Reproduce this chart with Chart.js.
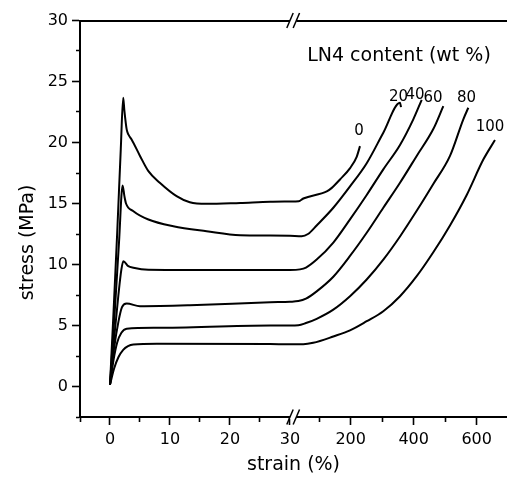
<!DOCTYPE html>
<html>
<head>
<meta charset="utf-8">
<script src="https://cdn.jsdelivr.net/npm/chart.js@4.4.0/dist/chart.umd.min.js"></script>
<style>
html,body{margin:0;padding:0;background:#fff;}
#wrap{width:507px;height:483px;position:relative;}
</style>
</head>
<body>
<div id="wrap"><canvas id="c"></canvas></div>
<script>
// ---- data (strain in %, stress in MPa) ----
const contents = ['0', '20', '40', '60', '80', '100'];

const strain0  = [0, 0.6, 1.2, 1.8, 2.2, 2.4, 2.78, 3.06, 3.6, 5.0, 6.4, 8.3, 11.1, 13.3, 16.1, 21.7, 26.7, 30, 35, 49.5, 124, 140, 166, 198, 219, 229.5];
const stress0  = [0.16, 6.2, 12.6, 19.5, 23.66, 22.6, 21.07, 20.66, 20.25, 18.9, 17.65, 16.7, 15.6, 15.1, 14.97, 15.05, 15.14, 15.16, 15.19, 15.41, 16.0, 16.28, 16.97, 17.9, 18.83, 19.7];

const strain20 = [0, 0.8, 1.5, 2.1, 2.4, 2.67, 3.9, 6.4, 10.55, 16.1, 21.7, 26.7, 30, 44.4, 64.4, 92, 144.8, 197.8, 250.8, 303.5, 356.5, 359.7];
const stress20 = [0.16, 6.2, 11.8, 16.48, 15.6, 15.0, 14.37, 13.69, 13.14, 12.73, 12.4, 12.37, 12.35, 12.32, 12.5, 13.2, 14.65, 16.4, 18.3, 20.8, 23.25, 22.9];

const strain40 = [0, 0.7, 1.4, 1.9, 2.22, 3.05, 3.9, 6.4, 13.3, 26.7, 30, 39, 58, 92, 144.8, 197.8, 250.8, 303.5, 356.5, 398.7, 425.4];
const stress40 = [0.16, 4.0, 7.5, 9.6, 10.27, 9.86, 9.73, 9.57, 9.55, 9.55, 9.55, 9.6, 9.75, 10.4, 11.8, 13.7, 15.7, 17.8, 19.8, 21.9, 23.5];

const strain60 = [0, 0.7, 1.4, 2.0, 2.78, 5.0, 13.3, 26.7, 30, 33.7, 58, 92, 144.8, 197.8, 250.8, 303.5, 356.5, 409.5, 462.2, 494];
const stress60 = [0.16, 3.2, 5.3, 6.5, 6.8, 6.58, 6.66, 6.91, 6.95, 7.0, 7.2, 7.8, 9.0, 10.7, 12.6, 14.65, 16.7, 18.9, 21.1, 22.98];

const strain80 = [0, 0.6, 1.2, 1.9, 2.78, 7.8, 26.7, 30, 33.7, 58, 92, 144.8, 197.8, 250.8, 303.5, 356.5, 409.5, 462.2, 515.2, 557.5, 573.4];
const stress80 = [0.16, 2.2, 3.6, 4.4, 4.73, 4.81, 5.0, 5.0, 5.02, 5.2, 5.55, 6.3, 7.4, 8.77, 10.4, 12.3, 14.4, 16.6, 18.9, 21.9, 22.85];

const strain100 = [0, 0.7, 1.4, 2.2, 3.0, 3.9, 7.8, 26.7, 30, 49.5, 81, 144.8, 197.8, 250.8, 303.5, 356.5, 409.5, 462.2, 515.2, 568.3, 621, 658];
const stress100 = [0.16, 1.5, 2.4, 3.0, 3.3, 3.44, 3.5, 3.48, 3.46, 3.46, 3.58, 4.1, 4.6, 5.35, 6.17, 7.4, 9.04, 11.0, 13.2, 15.7, 18.6, 20.2];

// tick labels
const xMajorLeft  = [0, 10, 20, 30];
const xMinorLeft  = [-5, 5, 15, 25];
const xMajorRight = [200, 400, 600];
const xMinorRight = [100, 300, 500];
const yMajor = [0, 5, 10, 15, 20, 25, 30];
const yMinor = [-2.5, 2.5, 7.5, 12.5, 17.5, 22.5, 27.5];

// ---- broken x axis: 0..30 linear, then compressed segment ----
const BREAK_AT = 30, GAP = 1.195, SCALE = 0.0525;
const toAxis = s => s <= BREAK_AT ? s : BREAK_AT + GAP + (s - BREAK_AT) * SCALE;

const series = [
  [strain0, stress0], [strain20, stress20], [strain40, stress40],
  [strain60, stress60], [strain80, stress80], [strain100, stress100]
];

const xTickDefs = [
  ...xMinorLeft.map(v => ({u: toAxis(v), label: '', minor: true})),
  ...xMajorLeft.map(v => ({u: toAxis(v), label: String(v), minor: false})),
  ...xMinorRight.map(v => ({u: toAxis(v), label: '', minor: true})),
  ...xMajorRight.map(v => ({u: toAxis(v), label: String(v), minor: false}))
].sort((a, b) => a.u - b.u);
const yTickDefs = [
  ...yMajor.map(v => ({u: v, label: String(v), minor: false})),
  ...yMinor.map(v => ({u: v, label: '', minor: true}))
].sort((a, b) => a.u - b.u);

const FONT = 'DejaVu Sans';
const X_MIN = -5, X_MAX = 66.17;

const decor = {
  id: 'decor',
  afterDraw(chart) {
    const ctx = chart.ctx, ca = chart.chartArea, xs = chart.scales.x;
    const c1 = xs.getPixelForValue(BREAK_AT);
    const c2 = xs.getPixelForValue(BREAK_AT + GAP) - 0.8;
    ctx.save();
    [ca.top, ca.bottom].forEach(y => {
      ctx.fillStyle = '#fff';
      ctx.fillRect(c1, y - 2, c2 - c1, 4);
      ctx.strokeStyle = '#000';
      ctx.lineWidth = 1.5;
      [c1, c2].forEach(c => {
        ctx.beginPath();
        ctx.moveTo(c - 3.2, y + 7.5);
        ctx.lineTo(c + 3.2, y - 7.5);
        ctx.stroke();
      });
    });
    ctx.fillStyle = '#000';
    // y-axis title
    ctx.save();
    ctx.translate(28, 242.5);
    ctx.rotate(-Math.PI / 2);
    ctx.font = '19px "' + FONT + '"';
    ctx.textAlign = 'center';
    ctx.textBaseline = 'middle';
    ctx.fillText('stress (MPa)', 0, 0);
    ctx.restore();
    // legend title
    ctx.font = '19px "' + FONT + '"';
    ctx.textAlign = 'center';
    ctx.textBaseline = 'alphabetic';
    ctx.fillText('LN4 content (wt %)', 399, 61);
    // curve labels
    const labelPos = [[359, 135], [398.5, 101], [415, 99], [433, 102], [466.5, 102], [490, 131]];
    ctx.font = '15px "' + FONT + '"';
    contents.forEach((t, i) => ctx.fillText(t, labelPos[i][0], labelPos[i][1]));
    ctx.restore();
  }
};

new Chart(document.getElementById('c'), {
  type: 'line',
  data: {
    datasets: series.map((s, i) => ({
      label: contents[i],
      data: s[0].map((x, j) => ({x: toAxis(x), y: s[1][j]})),
      borderColor: '#000',
      borderWidth: 2,
      pointRadius: 0,
      fill: false,
      cubicInterpolationMode: 'monotone'
    }))
  },
  options: {
    responsive: true,
    maintainAspectRatio: false,
    animation: false,
    layout: {padding: 0},
    plugins: {legend: {display: false}, tooltip: {enabled: false}},
    scales: {
      x: {
        type: 'linear', position: 'bottom', min: X_MIN, max: X_MAX,
        afterBuildTicks: sc => { sc.ticks = xTickDefs.map(d => ({value: d.u, minor: d.minor})); },
        afterFit: sc => { sc.height = 66; },
        ticks: {
          autoSkip: false, maxRotation: 0, padding: 5, color: '#000',
          font: {family: FONT, size: 16},
          callback: (v, i) => xTickDefs[i] ? xTickDefs[i].label : ''
        },
        grid: {
          drawOnChartArea: false, tickLength: 8, tickWidth: 1.6, tickColor: '#000',
          tickBorderDash: ctx => (ctx.tick && ctx.tick.minor) ? [4, 100] : []
        },
        border: {display: true, width: 2, color: '#000'},
        title: {display: true, text: 'strain (%)', color: '#000', font: {family: FONT, size: 19}, padding: {top: 0, bottom: 6.6}}
      },
      xTop: {
        type: 'linear', position: 'top', min: X_MIN, max: X_MAX,
        afterFit: sc => { sc.height = 20.5; },
        ticks: {display: false},
        grid: {drawOnChartArea: false, drawTicks: false},
        border: {display: true, width: 2, color: '#000'}
      },
      y: {
        type: 'linear', position: 'left', min: -2.5, max: 30,
        afterBuildTicks: sc => { sc.ticks = yTickDefs.map(d => ({value: d.u, minor: d.minor})); },
        afterFit: sc => { sc.width = 80; },
        ticks: {
          autoSkip: false, padding: 4, color: '#000',
          font: {family: FONT, size: 16},
          callback: (v, i) => yTickDefs[i] ? yTickDefs[i].label : ''
        },
        grid: {
          drawOnChartArea: false, tickLength: 8, tickWidth: 1.6, tickColor: '#000',
          tickBorderDash: ctx => (ctx.tick && ctx.tick.minor) ? [0, 4, 4, 100] : []
        },
        border: {display: true, width: 2, color: '#000'}
      }
    }
  },
  plugins: [decor]
});
</script>
</body>
</html>
